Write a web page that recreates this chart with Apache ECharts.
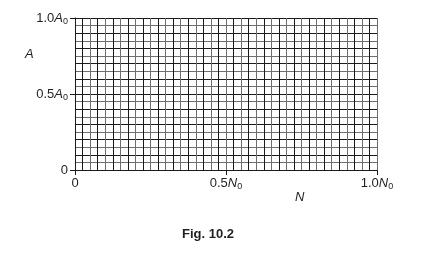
<!DOCTYPE html>
<html>
<head>
<meta charset="utf-8">
<script src="https://cdn.jsdelivr.net/npm/echarts@6/dist/echarts.min.js"></script>
<style>html,body{margin:0;padding:0;background:#fff;}#c{width:427px;height:256px;}</style>
</head>
<body>
<div id="c"></div>
<script>
// Axis ranges and grid spacing
const xRange = [0, 1];
const yRange = [0, 1];
const xGridStep = 0.025;   // 40 small squares across
const yGridStep = 0.05;    // 20 small squares up
// Tick values and labels
const xTickValues = [0, 0.5, 1.0];
const xTickLabels = ['0', '0.5|N', '1.0|N'];
const yTickValues = [0, 0.5, 1.0];
const yTickLabels = ['0', '0.5|A', '1.0|A'];
const xName = 'N';
const yName = 'A';
const caption = 'Fig. 10.2';

const TXT = '#231f20';
const FONT = 'Liberation Sans, Arial, sans-serif';

function fmt(labels, values) {
  return function (v) {
    const i = values.findIndex(t => Math.abs(t - v) < 1e-9);
    if (i < 0) return '';
    const parts = labels[i].split('|');
    if (parts.length === 1) return '{n|' + parts[0] + '}';
    return '{n|' + parts[0] + '}{i|' + parts[1] + '}{s|0}';
  };
}
const rich = {
  n: { fontSize: 13, fontFamily: FONT, color: TXT, lineHeight: 16, verticalAlign: 'middle' },
  i: { fontSize: 13, fontFamily: FONT, fontStyle: 'italic', color: TXT, lineHeight: 16, verticalAlign: 'middle' },
  s: { fontSize: 9, fontFamily: FONT, color: TXT, lineHeight: 7, verticalAlign: 'bottom' }
};

const chart = echarts.init(document.getElementById('c'), null, { renderer: 'canvas' });
chart.setOption({
  animation: false,
  backgroundColor: '#fff',
  grid: { left: 75, right: 50, top: 18, bottom: 86, containLabel: false },
  xAxis: [
    {
      type: 'value', min: xRange[0], max: xRange[1], interval: xGridStep,
      axisLine: { show: false }, axisTick: { show: false }, axisLabel: { show: false },
      splitLine: { show: true, lineStyle: { color: ['#6e6e6e', '#1a1a1a'], width: 1 } }
    },
    {
      type: 'value', min: xRange[0], max: xRange[1], interval: 0.5, position: 'bottom',
      axisLine: { show: true, onZero: false, lineStyle: { color: '#1a1a1a', width: 1 } },
      axisTick: { show: true, inside: false, length: 5, lineStyle: { color: '#1a1a1a' } },
      axisLabel: { show: true, margin: 5, formatter: fmt(xTickLabels, xTickValues), rich: rich },
      splitLine: { show: false }
    }
  ],
  yAxis: [
    {
      type: 'value', min: yRange[0], max: yRange[1], interval: yGridStep,
      axisLine: { show: false }, axisTick: { show: false }, axisLabel: { show: false },
      splitLine: { show: true, lineStyle: { color: ['#1a1a1a', '#6e6e6e'], width: 1 } }
    },
    {
      type: 'value', min: yRange[0], max: yRange[1], interval: 0.5, position: 'left',
      axisLine: { show: true, onZero: false, lineStyle: { color: '#1a1a1a', width: 1 } },
      axisTick: { show: true, inside: false, length: 5, lineStyle: { color: '#1a1a1a' } },
      axisLabel: { show: true, margin: 7, formatter: fmt(yTickLabels, yTickValues), rich: rich },
      splitLine: { show: false }
    }
  ],
  title: {
    text: caption, left: 177, top: 223,
    textStyle: { fontSize: 13, fontWeight: 'bold', fontFamily: FONT, color: TXT }
  },
  graphic: [
    { type: 'text', left: 25, top: 48, style: { text: yName, font: 'italic 13px ' + FONT, fill: TXT } },
    { type: 'text', left: 295, top: 191, style: { text: xName, font: 'italic 13px ' + FONT, fill: TXT } }
  ],
  series: [{ type: 'line', xAxisIndex: 0, yAxisIndex: 0, data: [], silent: true }]
});
</script>
</body>
</html>
